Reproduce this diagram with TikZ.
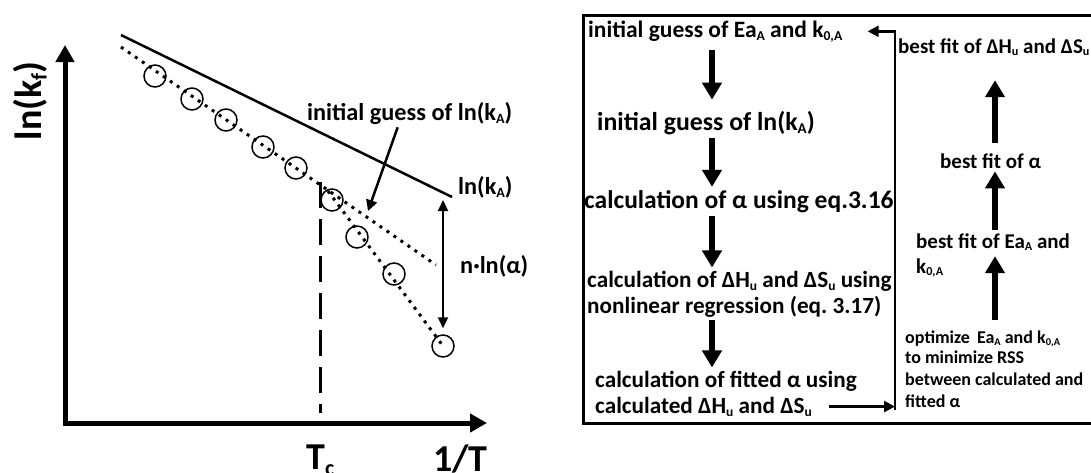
\documentclass[tikz,border=0pt]{standalone}
\usepackage{fontspec}
\usepackage{graphicx}
\setmainfont{Carlito}
\frenchspacing
\usetikzlibrary{arrows.meta}

% small lowered subscript
\newcommand{\lowsub}[1]{\raisebox{-0.14em}{\scalebox{0.58}{#1}}}

\begin{document}
\begin{tikzpicture}[x=1pt,y=-1pt,
  lbl/.style={font=\fontsize{24.3}{28}\selectfont\bfseries, inner sep=0pt},
  big/.style={font=\fontsize{38}{40}\selectfont\bfseries, inner sep=0pt},
  flow/.style={font=\fontsize{23.2}{27}\selectfont\bfseries, inner sep=0pt, anchor=base west},
  side/.style={font=\fontsize{21}{29}\selectfont\bfseries, inner sep=0pt, anchor=base west},
  small/.style={font=\fontsize{18}{21}\selectfont\bfseries, inner sep=0pt, anchor=base west},
  axis/.style={line width=5pt, -{Triangle[length=17pt,width=18pt]}},
  dots/.style={line width=3pt, dash pattern=on 3pt off 5.5pt},
  pt/.style={circle, draw, line width=1.5pt, minimum size=22pt, inner sep=0pt},
  fat/.style={line width=6pt, -{Triangle[length=17pt,width=19pt]}, shorten <=3pt, shorten >=3pt},
  slim/.style={line width=2.5pt, -{Triangle[length=11pt,width=11pt]}}]

\useasboundingbox (0,0) rectangle (1091,472);

% axes
\draw[axis] (65,425.5) -- (65,45);
\draw[axis] (62.5,423) -- (487,423);

% ln(kA) line and the two dotted fits
\coordinate (ka) at (452,197);
\draw[line width=2.5pt] (121,35) -- (ka);
\draw[dots] (121,47) -- (436,265);
\draw[dots] (328,191) -- (443,346);

% data points
\node[pt] (p1) at (155,76) {};
\node[pt] (p2) at (192,99) {};
\node[pt] (p3) at (226,120) {};
\node[pt] (p4) at (263,147) {};
\node[pt] (p5) at (296,168) {};
\node[pt] (p6) at (332,200) {};
\node[pt] (p7) at (357,237) {};
\node[pt] (p8) at (394,274) {};
\node[pt] (p9) at (443,346) {};

% Tc marker
\draw[line width=3pt, dash pattern=on 26pt off 11pt] (320,182) -- (320,413);

% labels of the plot
\node[big, rotate=90] (ylab) at (30,101) {ln(k\lowsub{f})};
\node[big, anchor=north west] (tc) at (306,445) {T\lowsub{c}};
\node[big, anchor=north west] (invt) at (433,445) {1/T};
\node[lbl, anchor=base west] (guess) at (307,120) {initial guess of ln(k\lowsub{A})};
\node[lbl, anchor=base west] (lnka) at (458,194) {ln(k\lowsub{A})};
\node[lbl, anchor=base west] (nln) at (460,273) {n·ln(α)};

\coordinate (gtip) at (368,211);
\draw[slim] ([xshift=-12pt,yshift=-3pt]guess.south) -- (gtip);
\draw[line width=2pt, {Triangle[length=11pt,width=10pt]}-{Triangle[length=11pt,width=10pt]}, shorten <=6pt, shorten >=3pt] (p9.north) -- (p9.north |- ka);

% frame of the flow chart
\draw[line width=3pt] (583,15) rectangle (1100,423);

% left column
\node[flow, font=\fontsize{23.5}{27}\selectfont\bfseries] (ea) at (588,37) {initial guess of Ea\lowsub{A} and k\lowsub{0,A}};
\node[flow, font=\fontsize{25.8}{27}\selectfont\bfseries] (lnk) at (597,130) {initial guess of ln(k\lowsub{A})};
\node[flow, font=\fontsize{25.5}{27}\selectfont\bfseries] (alpha) at (584,208) {calculation of α using eq.3.16};
\node[flow] (dhds) at (587,287) {calculation of ΔH\lowsub{u} and ΔS\lowsub{u} using};
\node[flow] (dhdsb) at (587,313) {nonlinear regression (eq. 3.17)};
\node[flow] (fit) at (595,387) {calculation of fitted α using};
\node[flow] (fitb) at (595,413) {calculated ΔH\lowsub{u} and ΔS\lowsub{u}};

\coordinate (lcol) at (712,0);
\draw[fat, shorten <=8pt, shorten >=11pt] (ea.south -| lcol) -- (lnk.north -| lcol);
\draw[fat] (lnk.south -| lcol) -- (alpha.north -| lcol);
\draw[fat] (alpha.south -| lcol) -- (dhds.north -| lcol);
\draw[fat] (dhdsb.south -| lcol) -- (fit.north -| lcol);

% loop back
\coordinate (rb) at (895,410);
\draw[slim, shorten >=25pt] (rb) |- (ea.east);
\draw[slim, shorten <=17pt] (fitb.east) -- (fitb.east -| rb);

% right column
\node[side] (bestdh) at (898,53) {best fit of ΔH\lowsub{u} and ΔS\lowsub{u}};
\node[side] (bestal) at (940,168) {best fit of α};
\node[side] (bestea) at (916,248) {best fit of Ea\lowsub{A} and};
\node[side] (bestk) at (916,273) {k\lowsub{0,A}};
\node[small] (opt) at (905,343) {optimize \,Ea\lowsub{A} and k\lowsub{0,A}};
\node[small] (optb) at (905,363) {to minimize RSS};
\node[small] (optc) at (905,385) {between calculated and};
\node[small] (optd) at (905,407) {fitted α};

\coordinate (rcol) at (995,0);
\draw[fat, shorten <=10pt, shorten >=24pt] (bestal.north -| rcol) -- (bestdh.south -| rcol);
\draw[fat] (bestea.north -| rcol) -- (bestal.south -| rcol);
\draw[fat, shorten <=10pt, shorten >=5pt] (opt.north -| rcol) -- (bestea.south -| rcol);

\end{tikzpicture}
\end{document}
